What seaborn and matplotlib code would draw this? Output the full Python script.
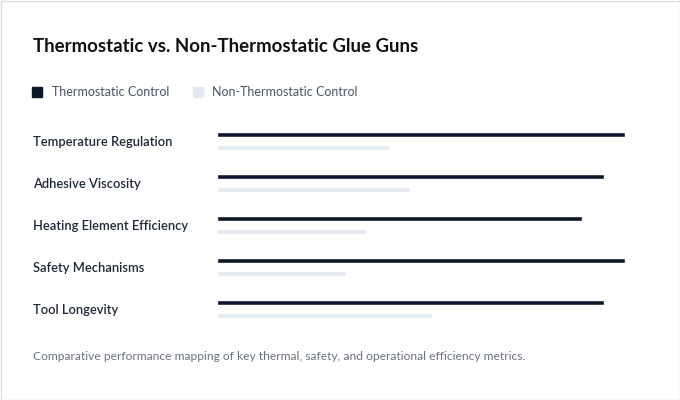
import pandas as pd
import matplotlib.pyplot as plt
import seaborn as sns
from matplotlib.patches import Rectangle
from matplotlib.lines import Line2D

# chart data
metrics = ["Temperature Regulation", "Adhesive Viscosity",
           "Heating Element Efficiency", "Safety Mechanisms", "Tool Longevity"]
thermostatic = [95, 90, 85, 95, 90]
non_thermostatic = [40, 45, 35, 30, 50]
series = ["Thermostatic Control", "Non-Thermostatic Control"]
colors = ["#0f172a", "#e2e8f0"]

df = pd.DataFrame({"metric": metrics,
                   series[0]: thermostatic,
                   series[1]: non_thermostatic})
df = df.melt(id_vars="metric", var_name="series", value_name="score")

sns.set_theme(style="white")
plt.rcParams['font.family'] = ['Lato', 'DejaVu Sans']

W, H = 680, 400
fig = plt.figure(figsize=(W / 100, H / 100), dpi=100)
fig.patch.set_facecolor("white")

# plot area: x 0..100 spans 217px..647px, rows 120px..330px
ax = fig.add_axes([216.5 / W, 70 / H, 430.5 / W, 210 / H])
sns.barplot(data=df, y="metric", x="score", hue="series", order=metrics,
            hue_order=series, palette=colors, orient="h", width=0.62,
            gap=0.615, saturation=1, legend=False, ax=ax)
ax.set_xlim(0, 100)
ax.set_ylim(4.5, -0.5)
sns.despine(ax=ax, left=True, bottom=True)
ax.set_xticks([])
ax.set_xlabel("")
ax.set_ylabel("")
ax.tick_params(axis="y", length=0, pad=183.5 * 0.72)
for t in ax.get_yticklabels():
    t.set_ha("left")
    t.set_fontsize(9.3)
    t.set_fontweight("semibold")
    t.set_color("#1f2937")

# title
fig.text(33 / W, 1 - 47 / H, "Thermostatic vs. Non-Thermostatic Glue Guns",
         fontsize=13.4, fontweight="bold", color="#111111", va="center", ha="left")

# legend
handles = [Line2D([], [], marker="s", linestyle="", markersize=7.2,
                  color=c, label=s) for s, c in zip(series, colors)]
fig.legend(handles=handles, loc="center left", bbox_to_anchor=(33 / W, 1 - 92 / H),
           ncol=2, frameon=False, fontsize=9, handlelength=0.7,
           handletextpad=0.78, columnspacing=1.97, borderpad=0, borderaxespad=0,
           labelcolor="#4b5563")

# footnote
fig.text(33 / W, 1 - 357 / H,
         "Comparative performance mapping of key thermal, safety, and operational efficiency metrics.",
         fontsize=8.65, color="#6b7280", va="center", ha="left")

# card border
fig.patches.append(Rectangle((0.5 / W, 0.5 / H), 1 - 1 / W, 1 - 1 / H,
                             transform=fig.transFigure, fill=False,
                             edgecolor="#dddddd", linewidth=1))

fig.savefig("out.png", dpi=100)
